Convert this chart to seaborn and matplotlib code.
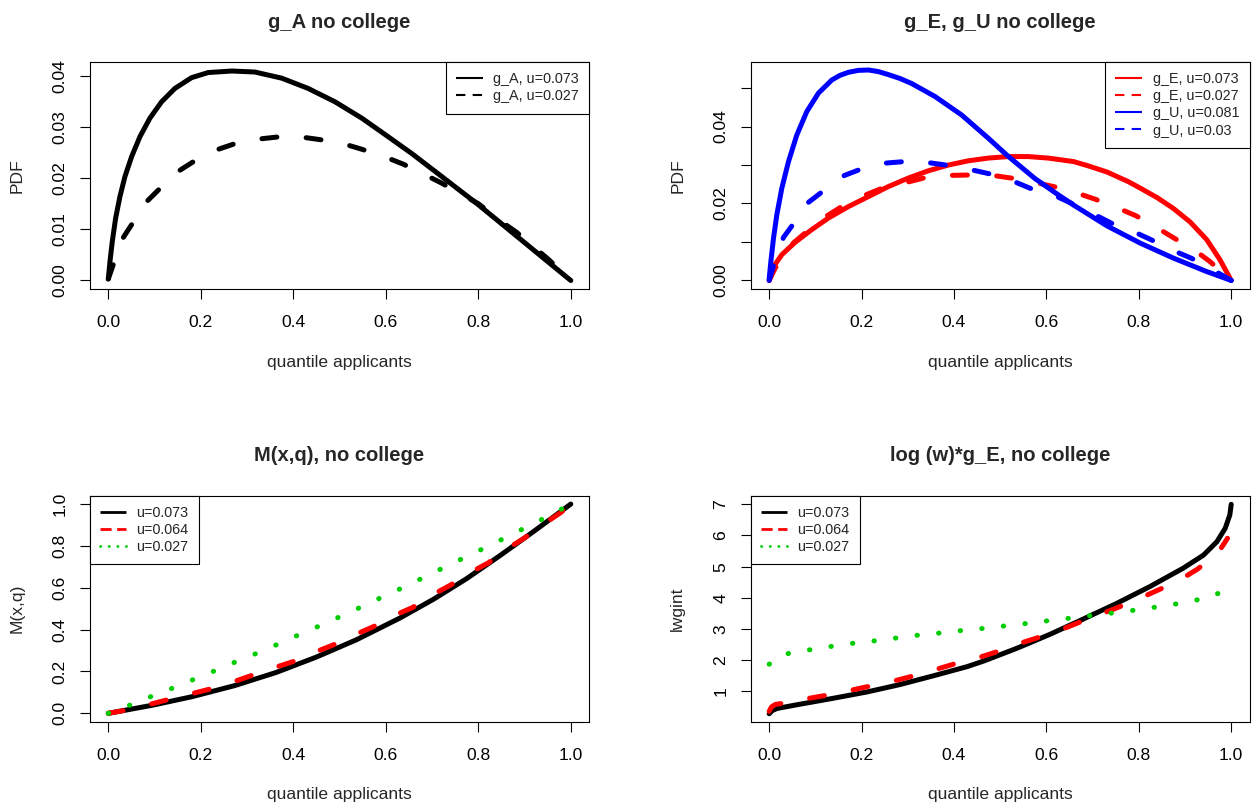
import matplotlib
matplotlib.use("Agg")
import matplotlib.pyplot as plt
from matplotlib.lines import Line2D
import seaborn as sns

sns.set_style("white")
plt.rcParams["font.family"] = ["Liberation Sans", "DejaVu Sans"]

# ---------------- data ----------------
# Panel 1: g_A no college
gA_073_x = [0, 0.0036, 0.0086, 0.0159, 0.0252, 0.036, 0.0505, 0.0685, 0.090, 0.1153, 0.144,
            0.180, 0.216, 0.267, 0.317, 0.375, 0.432, 0.490, 0.548, 0.600, 0.656, 0.721,
            0.800, 0.850, 0.900, 0.950, 1.000]
gA_073_y = [0.0003, 0.0037, 0.0076, 0.0122, 0.0164, 0.0203, 0.0242, 0.0281, 0.0317, 0.0349, 0.0375,
            0.0396, 0.0406, 0.0409, 0.0407, 0.0395, 0.0375, 0.0349, 0.0317, 0.0284, 0.0248, 0.0203,
            0.0148, 0.0111, 0.0074, 0.0037, 0.0]
gA_027_x = [0, 0.013, 0.0324, 0.054, 0.083, 0.112, 0.151, 0.184, 0.234, 0.270, 0.324, 0.364,
            0.418, 0.458, 0.512, 0.549, 0.602, 0.638, 0.688, 0.721, 0.800, 0.848, 0.883, 0.922,
            0.952, 1.0]
gA_027_y = [0.0003, 0.0037, 0.0084, 0.0114, 0.0154, 0.0180, 0.0213, 0.0232, 0.0255, 0.0266, 0.0276,
            0.0280, 0.0280, 0.0275, 0.0266, 0.0256, 0.0240, 0.0227, 0.0205, 0.0190, 0.0150, 0.0116,
            0.0094, 0.0064, 0.0041, 0.0]

# Panel 2: g_E, g_U no college
gE_073_x = [0, 0.013, 0.0274, 0.056, 0.092, 0.128, 0.1715, 0.2148, 0.258, 0.301, 0.3445, 0.388,
            0.431, 0.474, 0.5175, 0.5607, 0.604, 0.6586, 0.690, 0.7308, 0.777, 0.803, 0.840,
            0.875, 0.911, 0.947, 0.976, 1.0]
gE_073_y = [0.0, 0.0042, 0.0067, 0.0099, 0.0132, 0.0162, 0.0192, 0.0218, 0.0244, 0.0266, 0.0285,
            0.0300, 0.0311, 0.0318, 0.0322, 0.0322, 0.0318, 0.0309, 0.0298, 0.0282, 0.0257, 0.0240,
            0.0215, 0.0187, 0.0152, 0.0106, 0.0053, 0.0]
gE_027_x = [0, 0.013, 0.049, 0.0814, 0.1225, 0.157, 0.206, 0.245, 0.2977, 0.337, 0.389, 0.431,
            0.4836, 0.5247, 0.575, 0.619, 0.669, 0.706, 0.757, 0.794, 0.842, 0.875, 0.925, 0.954, 1.0]
gE_027_y = [0, 0.0032, 0.0094, 0.0127, 0.0166, 0.0192, 0.0221, 0.0240, 0.0255, 0.0267, 0.0273,
            0.0274, 0.0273, 0.0266, 0.0255, 0.0243, 0.0226, 0.0211, 0.0187, 0.0168, 0.0135,
            0.0111, 0.0075, 0.0049, 0.0]
gU_081_x = [0, 0.0036, 0.0094, 0.0166, 0.0274, 0.0418, 0.0598, 0.0814, 0.1067, 0.1355, 0.153,
            0.1715, 0.193, 0.2148, 0.236, 0.258, 0.283, 0.308, 0.359, 0.4166, 0.474, 0.515,
            0.575, 0.6227, 0.6586, 0.7308, 0.803, 0.875, 0.947, 1.0]
gU_081_y = [0.0004, 0.0049, 0.0110, 0.0171, 0.0240, 0.0309, 0.0378, 0.0439, 0.0487, 0.0521, 0.0533,
            0.0541, 0.0546, 0.0547, 0.0543, 0.0535, 0.0525, 0.0512, 0.0478, 0.0430, 0.0370, 0.0325,
            0.0265, 0.0225, 0.0196, 0.0142, 0.0097, 0.0058, 0.0023, 0.0]
gU_03_x = [0, 0.011, 0.031, 0.0548, 0.085, 0.1175, 0.163, 0.200, 0.252, 0.293, 0.346, 0.388,
           0.440, 0.481, 0.530, 0.568, 0.619, 0.655, 0.706, 0.742, 0.792, 0.828, 0.878, 0.915,
           0.961, 1.0]
gU_03_y = [0, 0.0045, 0.0112, 0.0151, 0.0203, 0.0233, 0.0273, 0.0290, 0.0305, 0.0309, 0.0306,
           0.0299, 0.0287, 0.0276, 0.0257, 0.0238, 0.0220, 0.0200, 0.0170, 0.0148, 0.0125,
           0.0105, 0.0076, 0.0057, 0.0027, 0.0]

# Panel 3: M(x,q), no college
M_073_x = [0, 0.0937, 0.18, 0.2724, 0.3625, 0.45, 0.537, 0.631, 0.703, 0.775, 0.847, 0.919, 1.0]
M_073_y = [0, 0.038, 0.079, 0.132, 0.195, 0.269, 0.352, 0.456, 0.545, 0.644, 0.754, 0.868, 1.0]
M_064_x = [0, 0.0396, 0.0937, 0.1297, 0.18, 0.2198, 0.2724, 0.31, 0.3625, 0.40, 0.45, 0.4865,
           0.537, 0.573, 0.621, 0.658, 0.704, 0.740, 0.7856, 0.8216, 0.865, 0.90, 0.943, 0.978, 1.0]
M_064_y = [0, 0.016, 0.045, 0.066, 0.0937, 0.116, 0.152, 0.181, 0.2206, 0.2476, 0.295, 0.327,
           0.379, 0.414, 0.470, 0.506, 0.570, 0.613, 0.676, 0.719, 0.790, 0.838, 0.907, 0.959, 1.0]
M_027_x = [0, 0.0454, 0.0894, 0.134, 0.1773, 0.2213, 0.265, 0.309, 0.353, 0.396, 0.44, 0.483,
           0.526, 0.569, 0.6126, 0.656, 0.698, 0.741, 0.7835, 0.826, 0.8685, 0.911, 0.9535, 0.9953]
M_027_y = [0, 0.038, 0.0778, 0.1159, 0.1556, 0.195, 0.2365, 0.276, 0.317, 0.360, 0.4016, 0.444,
           0.487, 0.532, 0.576, 0.621, 0.667, 0.713, 0.759, 0.803, 0.851, 0.897, 0.945, 0.994]

# Panel 4: log(w)*g_E, no college
L_073_x = [0, 0.0065, 0.017, 0.068, 0.140, 0.212, 0.284, 0.356, 0.428, 0.464, 0.536, 0.608,
           0.680, 0.752, 0.824, 0.896, 0.940, 0.969, 0.987, 0.997, 1.0]
L_073_y = [0.28, 0.38, 0.45, 0.59, 0.78, 0.98, 1.22, 1.50, 1.79, 1.97, 2.38, 2.83, 3.32, 3.82,
           4.36, 4.95, 5.37, 5.80, 6.23, 6.66, 7.0]
L_064_x = [0, 0.005, 0.0136, 0.032, 0.088, 0.127, 0.179, 0.219, 0.272, 0.311, 0.363, 0.401,
           0.453, 0.493, 0.543, 0.581, 0.634, 0.669, 0.722, 0.758, 0.809, 0.845, 0.895, 0.927,
           0.971, 0.992]
L_064_y = [0.36, 0.50, 0.58, 0.62, 0.78, 0.88, 1.04, 1.17, 1.34, 1.49, 1.71, 1.88, 2.08, 2.27,
           2.54, 2.72, 2.99, 3.20, 3.50, 3.71, 4.03, 4.27, 4.63, 4.92, 5.43, 5.91]
L_027_x = [0.0, 0.041, 0.087, 0.134, 0.181, 0.228, 0.275, 0.322, 0.369, 0.416, 0.464, 0.511,
           0.559, 0.606, 0.653, 0.700, 0.747, 0.794, 0.841, 0.888, 0.935, 0.980]
L_027_y = [1.87, 2.21, 2.33, 2.44, 2.54, 2.62, 2.71, 2.80, 2.87, 2.95, 3.02, 3.10, 3.18, 3.27,
           3.35, 3.44, 3.52, 3.61, 3.71, 3.82, 3.96, 4.18]

titles = ["g_A no college", "g_E, g_U no college", "M(x,q), no college", "log (w)*g_E, no college"]
x_label = "quantile applicants"
y_labels = ["PDF", "PDF", "M(x,q)", "lwgint"]
x_ticks = [0.0, 0.2, 0.4, 0.6, 0.8, 1.0]
x_tick_labels = ["0.0", "0.2", "0.4", "0.6", "0.8", "1.0"]
p1_yticks = [0.0, 0.01, 0.02, 0.03, 0.04]
p1_ylabels = ["0.00", "0.01", "0.02", "0.03", "0.04"]
p2_yticks = [0.0, 0.01, 0.02, 0.03, 0.04, 0.05]
p2_ylabels = ["0.00", "", "0.02", "", "0.04", ""]
p3_yticks = [0.0, 0.2, 0.4, 0.6, 0.8, 1.0]
p3_ylabels = ["0.0", "0.2", "0.4", "0.6", "0.8", "1.0"]
p4_yticks = [1, 2, 3, 4, 5, 6, 7]
p4_ylabels = ["1", "2", "3", "4", "5", "6", "7"]
p1_legend = ["g_A, u=0.073", "g_A, u=0.027"]
p2_legend = ["g_E, u=0.073", "g_E, u=0.027", "g_U, u=0.081", "g_U, u=0.03"]
p34_legend = ["u=0.073", "u=0.064", "u=0.027"]

RED, BLUE, GREEN, BLACK = "#FF0000", "#0000FF", "#00CD00", "#000000"

# ---------------- figure ----------------
W, H = 1259, 810
fig = plt.figure(figsize=(W / 100, H / 100), dpi=100)
fig.patch.set_facecolor("white")


def px_axes(left, top, right, bottom):
    return fig.add_axes([left / W, 1 - bottom / H, (right - left) / W, (bottom - top) / H])


ax1 = px_axes(89.8, 62.3, 589.3, 288.9)
ax2 = px_axes(750.7, 62.3, 1249.7, 288.9)
ax3 = px_axes(89.8, 495.7, 589.3, 721.7)
ax4 = px_axes(750.7, 495.7, 1249.7, 721.7)

LW = 3.6
LW_PX = LW * 100 / 72
DASH = (0, (3.0, 5.86))


def dotted(period_px):
    return (0, (0.08, period_px / LW_PX - 0.08))


def draw(ax, x, y, color, ls):
    sns.lineplot(x=x, y=y, ax=ax, color=color, linewidth=LW, linestyle=ls,
                 estimator=None, sort=False, legend=False,
                 solid_capstyle="round", dash_capstyle="round",
                 solid_joinstyle="round", dash_joinstyle="round")


draw(ax1, gA_073_x, gA_073_y, BLACK, "-")
draw(ax1, gA_027_x, gA_027_y, BLACK, DASH)

draw(ax2, gE_073_x, gE_073_y, RED, "-")
draw(ax2, gE_027_x, gE_027_y, RED, DASH)
draw(ax2, gU_081_x, gU_081_y, BLUE, "-")
draw(ax2, gU_03_x, gU_03_y, BLUE, DASH)

draw(ax3, M_073_x, M_073_y, BLACK, "-")
draw(ax3, M_064_x, M_064_y, RED, DASH)
draw(ax3, M_027_x, M_027_y, GREEN, dotted(22.6))

draw(ax4, L_073_x, L_073_y, BLACK, "-")
draw(ax4, L_064_x, L_064_y, RED, DASH)
draw(ax4, L_027_x, L_027_y, GREEN, dotted(21.7))


def style_axes(ax, title, ylabel, ylim, yticks, yticklabels):
    ax.set_xlim(-0.04, 1.04)
    ax.set_ylim(*ylim)
    ax.set_xticks(x_ticks)
    ax.set_xticklabels(x_tick_labels)
    ax.set_yticks(yticks)
    ax.set_yticklabels(yticklabels)
    ax.tick_params(axis="both", direction="out", length=7, width=0.8, colors="black",
                   labelsize=12.6, bottom=True, left=True, top=False, right=False)
    ax.tick_params(axis="x", pad=11.7)
    ax.tick_params(axis="y", pad=14.6)
    plt.setp(ax.get_yticklabels(), rotation=90, ha="center", va="center")
    for s in ax.spines.values():
        s.set_visible(True)
        s.set_color("black")
        s.set_linewidth(0.8)
    ax.set_facecolor("white")
    ax.set_title(title, fontsize=14.5, fontweight="bold", pad=25)
    ax.set_xlabel(x_label, fontsize=12.6)
    ax.xaxis.set_label_coords(0.5, -0.344)
    ax.xaxis.label.set_va("baseline")
    ax.set_ylabel(ylabel, fontsize=12.6)
    ax.yaxis.set_label_coords(-0.137, 0.5)
    ax.yaxis.label.set_va("baseline")


style_axes(ax1, titles[0], y_labels[0], (-0.00164, 0.0426), p1_yticks, p1_ylabels)
style_axes(ax2, titles[1], y_labels[1], (-0.0022, 0.0567), p2_yticks, p2_ylabels)
style_axes(ax3, titles[2], y_labels[2], (-0.04, 1.04), p3_yticks, p3_ylabels)
style_axes(ax4, titles[3], y_labels[3], (0.025, 7.276), p4_yticks, p4_ylabels)


def add_legend(ax, labels, colors, styles, loc, anchor, lw, hl):
    handles = []
    for c, s in zip(colors, styles):
        cap = "round" if s[0] == "dot" else "butt"
        handles.append(Line2D([], [], color=c, lw=lw, linestyle=s[1],
                              dash_capstyle=cap, solid_capstyle="butt"))
    leg = ax.legend(handles, labels, loc=loc, bbox_to_anchor=anchor, borderaxespad=0,
                    fontsize=10.4, frameon=True, fancybox=False, framealpha=1,
                    edgecolor="black", facecolor="white", borderpad=0.7,
                    labelspacing=0.21, handlelength=hl, handletextpad=0.75)
    leg.get_frame().set_linewidth(0.8)
    return leg


top_solid = ("solid", "-")
top_dash = ("dash", (0, (4.5, 3.5)))
add_legend(ax1, p1_legend, [BLACK, BLACK], [top_solid, top_dash], "upper right", (1, 1), 1.5, 1.85)
add_legend(ax2, p2_legend, [RED, RED, BLUE, BLUE], [top_solid, top_dash, top_solid, top_dash],
           "upper right", (1, 1), 1.5, 1.85)
bot_styles = [("solid", "-"), ("dash", (0, (4, 2))), ("dot", (0, (0.1, 3.0)))]
add_legend(ax3, p34_legend, [BLACK, RED, GREEN], bot_styles, "upper left", (0, 1), 2.0, 1.78)
add_legend(ax4, p34_legend, [BLACK, RED, GREEN], bot_styles, "upper left", (0, 1), 2.0, 1.78)

fig.savefig("out.png", dpi=100, facecolor="white")
